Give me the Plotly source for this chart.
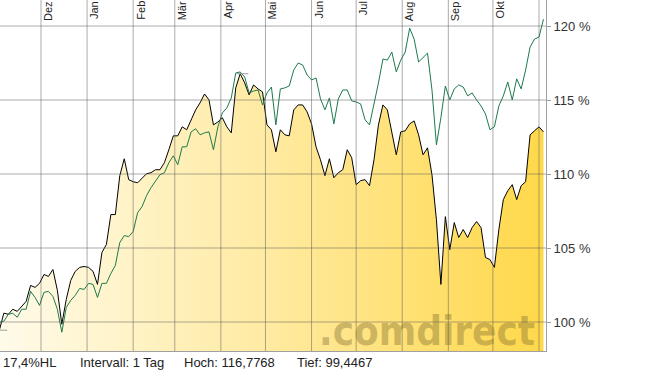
import pandas as pd
import plotly.graph_objects as go

# ---------------- data ----------------
START_DATE = "2022-11-03"
STEP = "3D"
N_POINTS = 123

fund_values = [
    99.45, 100.60, 100.52, 100.86, 100.72, 101.06, 101.39, 102.47, 102.34, 102.61,
    103.21, 103.08, 103.55, 102.14, 99.85, 101.53, 102.81, 103.42, 103.69, 103.75,
    103.69, 103.42, 102.54, 104.70, 105.24, 107.26, 107.26, 109.89, 111.03, 109.62,
    109.48, 109.41, 109.75, 110.02, 110.09, 110.29, 110.29, 110.76, 111.64, 112.58,
    112.58, 113.19, 112.99, 113.66, 114.33, 114.81, 115.41, 115.01, 113.32, 113.52,
    113.80, 113.19, 112.78, 115.82, 116.78, 116.16, 115.35, 116.02, 115.75, 115.55,
    113.32, 112.99, 111.50, 112.99, 112.65, 112.58, 114.33, 114.67, 114.67, 114.20,
    113.39, 111.84, 110.96, 109.89, 111.03, 109.75, 110.09, 110.29, 111.64, 111.10,
    109.28, 109.55, 109.62, 109.21, 110.96, 113.32, 114.67, 114.33, 112.85, 111.30,
    112.85, 112.92, 113.39, 113.59, 112.65, 111.30, 111.77, 109.95, 106.91, 102.54,
    107.12, 104.89, 106.72, 105.71, 106.25, 105.71, 106.38, 106.79, 106.38, 104.36,
    104.22, 103.69, 106.25, 108.27, 108.87, 109.28, 108.27, 109.21, 109.48, 112.65,
    112.92, 113.19, 112.85,
]

index_values = [
    99.98, 100.05, 100.52, 100.59, 100.32, 100.86, 100.86, 102.07, 101.66, 101.12,
    102.00, 102.07, 101.73, 100.86, 99.31, 100.99, 101.46, 101.80, 102.27, 102.20,
    102.61, 102.54, 101.66, 102.61, 102.61, 103.28, 103.82, 105.37, 105.84, 105.77,
    106.11, 107.39, 107.80, 108.54, 109.08, 109.48, 109.95, 110.09, 110.76, 111.23,
    110.63, 111.84, 111.84, 112.85, 113.06, 112.65, 112.78, 112.85, 111.64, 113.19,
    114.13, 114.47, 115.14, 116.83, 116.90, 116.56, 115.48, 115.61, 115.68, 114.67,
    115.48, 115.88, 113.32, 115.75, 115.82, 115.95, 117.03, 117.50, 117.37, 116.70,
    116.36, 116.49, 115.08, 114.34, 115.14, 113.39, 115.08, 115.68, 115.68, 114.94,
    114.87, 114.74, 113.66, 113.32, 114.67, 116.15, 117.77, 117.70, 118.24, 116.90,
    117.70, 118.24, 119.86, 119.12, 117.57, 117.90, 118.17, 115.68, 111.97, 113.80,
    115.95, 115.01, 115.75, 116.02, 115.88, 115.28, 115.48, 115.01, 114.60, 114.06,
    112.99, 113.19, 114.60, 115.28, 116.22, 115.01, 116.43, 115.75, 117.03, 118.58,
    119.12, 119.26, 120.46,
]

HOCH = 116.7768
TIEF = 99.4467
hoch_dates = ["2023-04-11 18:00", "2023-04-19 12:00"]
tief_dates = ["2022-11-03 10:00", "2022-11-08 06:00"]

month_starts = ["2022-12-01", "2023-01-01", "2023-02-01", "2023-03-01", "2023-04-01",
                "2023-05-01", "2023-06-01", "2023-07-01", "2023-08-01", "2023-09-01",
                "2023-10-01", "2023-11-01"]
month_labels = ["Dez", "Jan", "Feb", "Mär", "Apr", "Mai", "Jun", "Jul", "Aug", "Sep", "Okt", ""]

y_ticks = [100, 105, 110, 115, 120]
x_range = ["2022-11-03 10:00", "2023-11-05 17:00"]
y_range = [98.04, 121.76]

footer_texts = ["17,4%HL", "Intervall: 1 Tag", "Hoch: 116,7768", "Tief: 99,4467"]

dates = pd.date_range(START_DATE, periods=N_POINTS, freq=STEP)

# ---------------- figure ----------------
FONT = "Liberation Sans, Arial, sans-serif"
W, H = 645, 372
ML, MR, MT, MB = 0, 99, 0, 21
PW, PH = W - ML - MR, H - MT - MB

fig = go.Figure()

fig.add_trace(go.Scatter(
    x=dates, y=fund_values, mode="lines",
    line=dict(color="#000000", width=1),
    fill="tozeroy",
    fillgradient=dict(type="horizontal",
                      colorscale=[[0, "#fffbea"], [0.5, "#ffeaa0"], [1, "#ffd84a"]]),
    hoverinfo="skip", showlegend=False,
))
fig.add_trace(go.Scatter(
    x=dates, y=index_values, mode="lines",
    line=dict(color="#1d7a4c", width=1),
    hoverinfo="skip", showlegend=False,
))
fig.add_trace(go.Scatter(
    x=hoch_dates, y=[HOCH, HOCH], mode="lines",
    line=dict(color="#9a9a9a", width=1), hoverinfo="skip", showlegend=False,
))
fig.add_trace(go.Scatter(
    x=tief_dates, y=[TIEF, TIEF], mode="lines",
    line=dict(color="#9a9a9a", width=1), hoverinfo="skip", showlegend=False,
))

GRID = "rgba(90,90,90,0.5)"
shapes = []
for d in month_starts:
    shapes.append(dict(type="line", xref="x", yref="paper", x0=d, x1=d, y0=0, y1=1,
                       line=dict(color=GRID, width=1), layer="above"))
for v in y_ticks:
    shapes.append(dict(type="line", xref="paper", yref="y", x0=0, x1=1, y0=v, y1=v,
                       line=dict(color=GRID, width=1), layer="above"))

annotations = []
for d, lab in zip(month_starts, month_labels):
    if not lab:
        continue
    annotations.append(dict(
        x=d, xref="x", y=1, yref="paper",
        text=lab, textangle=-90, showarrow=False,
        xanchor="left", yanchor="top", xshift=0, borderpad=0,
        font=dict(family=FONT, size=11, color="#222222"),
    ))

annotations.append(dict(
    x=537 / PW, xref="paper", y=-0.014, yref="paper",
    text=".comdirect", showarrow=False, xanchor="right", yanchor="bottom",
    font=dict(family="DejaVu Sans Condensed, Liberation Sans Narrow, sans-serif",
              size=40, weight="bold", color="rgba(130,112,50,0.42)"),
))

footer_x = [1, 78, 182, 295]
for px, t in zip(footer_x, footer_texts):
    annotations.append(dict(
        x=px / PW, xref="paper", y=-11 / PH, yref="paper",
        text=t, showarrow=False, xanchor="left", yanchor="middle",
        font=dict(family=FONT, size=13, color="#222222"),
    ))

fig.update_layout(
    width=W, height=H,
    margin=dict(l=ML, r=MR, t=MT, b=MB, pad=0),
    paper_bgcolor="white", plot_bgcolor="white",
    shapes=shapes, annotations=annotations,
    xaxis=dict(type="date", range=x_range, showgrid=False, zeroline=False,
               showticklabels=False, ticks="",
               showline=True, linecolor="#a0a0a0", linewidth=1, mirror=False),
    yaxis=dict(side="right", range=y_range, tickvals=y_ticks,
               ticktext=[f"{v} %" for v in y_ticks],
               showgrid=False, zeroline=False,
               ticks="outside", ticklen=4, tickcolor="#a0a0a0",
               showline=True, linecolor="#a0a0a0", linewidth=1,
               tickfont=dict(family=FONT, size=13, color="#333333")),
    showlegend=False,
)

fig.write_html("out.html", config={"displayModeBar": False},
               post_script="document.body.style.margin='0';document.body.style.overflow='hidden';")
